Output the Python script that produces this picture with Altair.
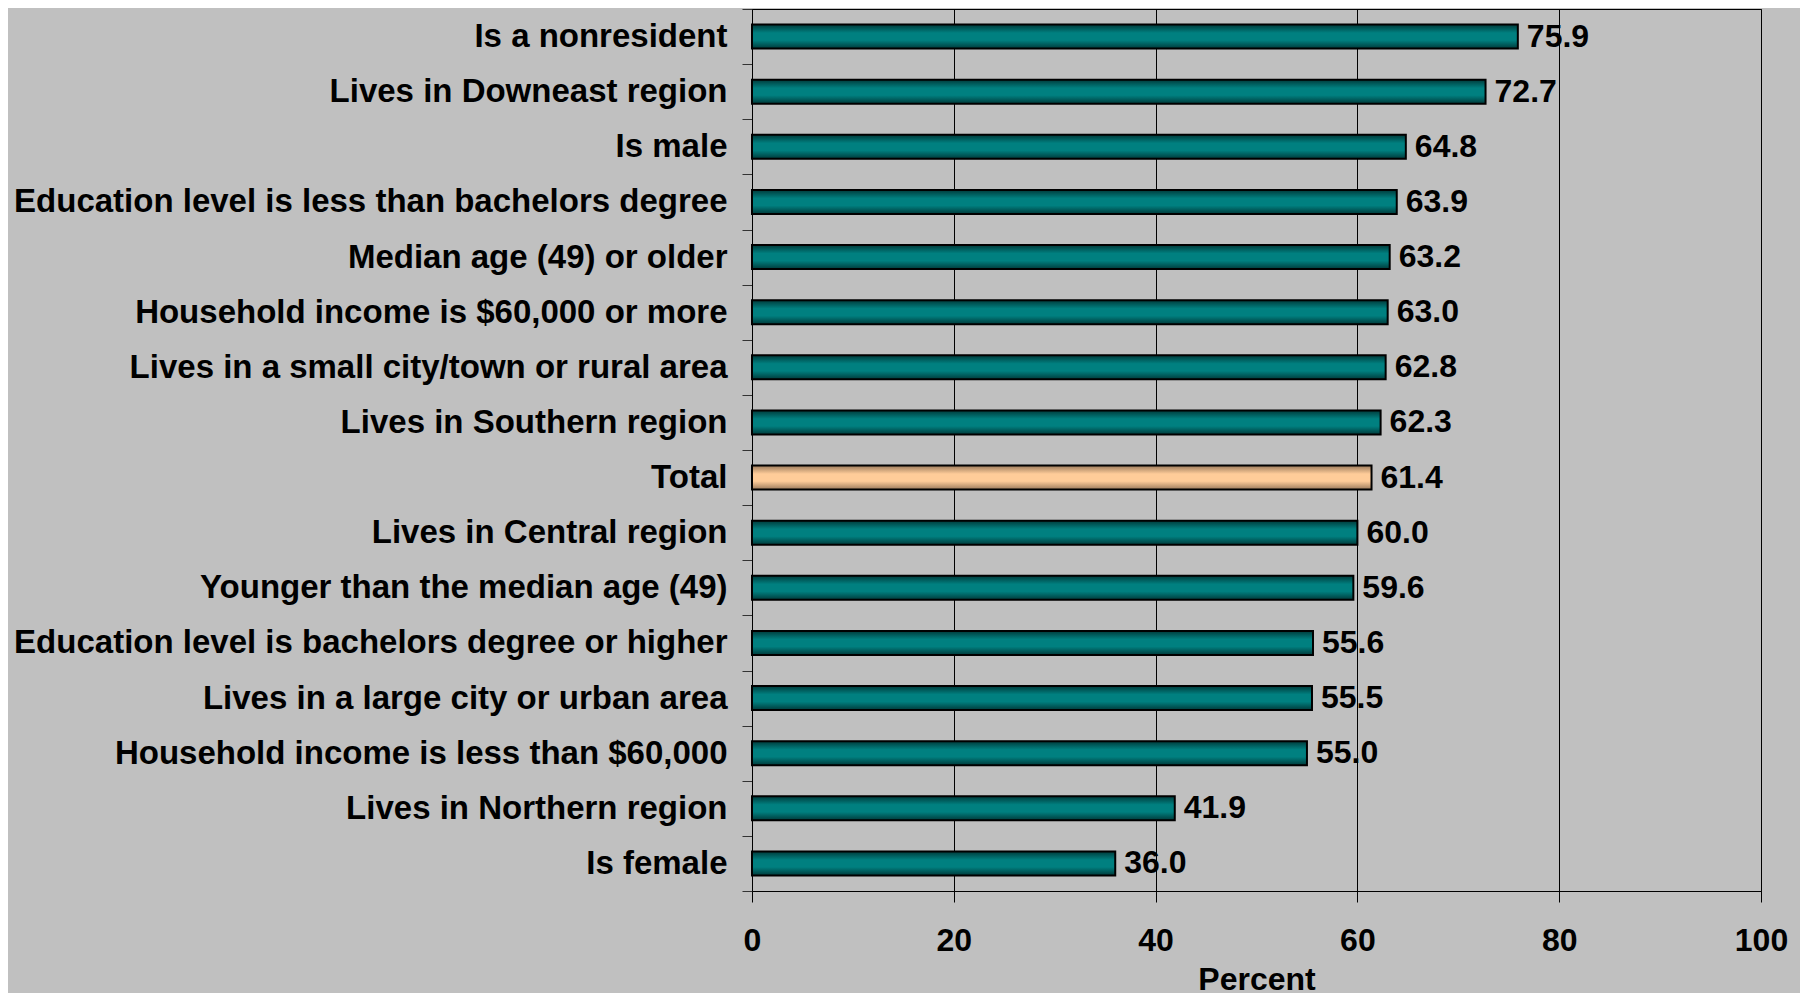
import altair as alt
import pandas as pd

categories = [
    "Is a nonresident",
    "Lives in Downeast region",
    "Is male",
    "Education level is less than bachelors degree",
    "Median age (49) or older",
    "Household income is $60,000 or more",
    "Lives in a small city/town or rural area",
    "Lives in Southern region",
    "Total",
    "Lives in Central region",
    "Younger than the median age (49)",
    "Education level is bachelors degree or higher",
    "Lives in a large city or urban area",
    "Household income is less than $60,000",
    "Lives in Northern region",
    "Is female",
]
values = [75.9, 72.7, 64.8, 63.9, 63.2, 63.0, 62.8, 62.3, 61.4, 60.0, 59.6, 55.6, 55.5, 55.0, 41.9, 36.0]
x_ticks = [0, 20, 40, 60, 80, 100]

df = pd.DataFrame({"category": categories, "value": values})

FONT = "Liberation Sans"

teal = alt.Gradient(
    gradient="linear",
    stops=[
        alt.GradientStop(color="#003a3a", offset=0),
        alt.GradientStop(color="#008080", offset=0.35),
        alt.GradientStop(color="#008080", offset=0.65),
        alt.GradientStop(color="#003a3a", offset=1),
    ],
    x1=0, x2=0, y1=0, y2=1,
)
peach = alt.Gradient(
    gradient="linear",
    stops=[
        alt.GradientStop(color="#9a7a5c", offset=0),
        alt.GradientStop(color="#ffcc99", offset=0.35),
        alt.GradientStop(color="#ffcc99", offset=0.65),
        alt.GradientStop(color="#9a7a5c", offset=1),
    ],
    x1=0, x2=0, y1=0, y2=1,
)

x_enc = alt.X(
    "value:Q",
    scale=alt.Scale(domain=[0, 100], nice=False, zero=True),
    axis=alt.Axis(
        values=x_ticks,
        title="Percent",
        grid=True,
        gridColor="black",
        gridWidth=1,
        gridOpacity=1,
        tickSize=11,
        tickColor="black",
        domainColor="black",
        labelFlush=False,
        labelPadding=23,
        labelFont=FONT,
        labelFontSize=32,
        labelFontWeight="bold",
        labelColor="black",
        titleFont=FONT,
        titleFontSize=32,
        titleFontWeight="bold",
        titleColor="black",
        titlePadding=8,
    ),
)
y_enc = alt.Y(
    "category:N",
    sort=categories,
    scale=alt.Scale(paddingInner=0, paddingOuter=0),
    axis=alt.Axis(
        title=None,
        tickBand="extent",
        tickSize=10,
        tickColor="#333333",
        domainColor="black",
        labelPadding=15,
        labelFont=FONT,
        labelFontSize=33,
        labelFontWeight="bold",
        labelColor="black",
        labelLimit=1000,
        grid=False,
    ),
)

base = alt.Chart(df)

bars_teal = base.transform_filter(alt.datum.category != "Total").mark_bar(
    size=24, fill=teal, stroke="black", strokeWidth=2
).encode(x=x_enc, y=y_enc)

bars_total = base.transform_filter(alt.datum.category == "Total").mark_bar(
    size=24, fill=peach, stroke="black", strokeWidth=2
).encode(x=x_enc, y=y_enc)

labels = base.mark_text(
    align="left", baseline="middle", dx=9, font=FONT, fontSize=32, fontWeight="bold", color="black"
).encode(x=x_enc, y=y_enc, text=alt.Text("value:Q", format=".1f"))

chart = (
    alt.layer(bars_teal, bars_total, labels)
    .properties(
        width=1009,
        height=882,
        background="#C0C0C0",
        autosize=alt.AutoSizeParams(type="none"),
        padding={"left": 744, "top": 1, "right": 39, "bottom": 110},
    )
    .configure_view(stroke="black", strokeWidth=1)
)

chart.save("out.html", embed_options={"renderer": "svg", "actions": False})
